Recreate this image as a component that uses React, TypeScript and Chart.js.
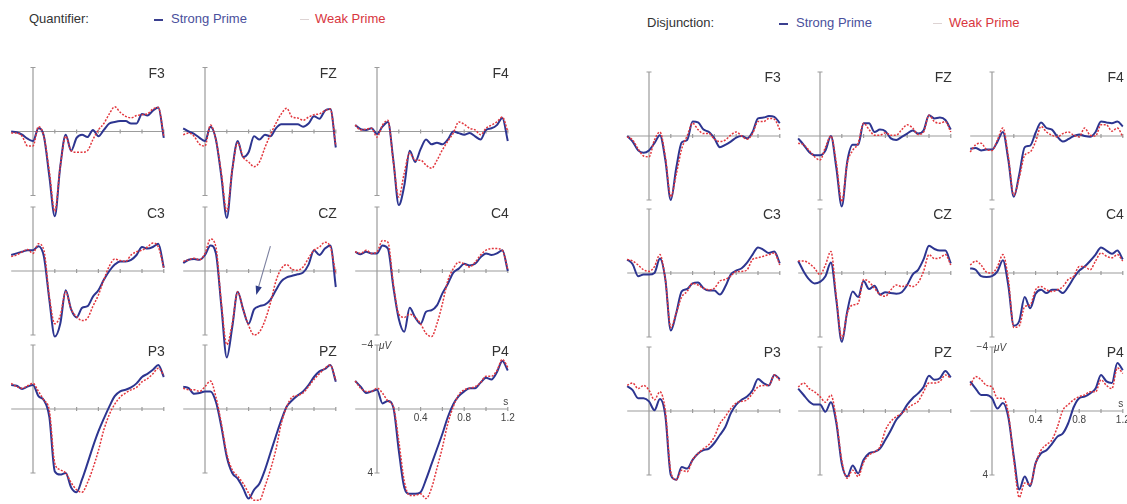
import React, { useEffect, useRef } from "react";
import { Chart, registerables } from "chart.js";

Chart.register(...registerables);

// ---- shared axes ----
const TIME = [-0.2, -0.15, -0.1, -0.05, 0, 0.05, 0.1, 0.15, 0.2, 0.25, 0.3, 0.35, 0.4, 0.45, 0.5, 0.55, 0.6, 0.65, 0.7, 0.75, 0.8, 0.85, 0.9, 0.95, 1.0, 1.05, 1.1, 1.15, 1.2];
const X_TICKS = [0.2, 0.4, 0.6, 0.8, 1.0, 1.2];
const X_TICK_LABELS = ["0.4", "0.8", "1.2"];
const X_TICK_LABEL_VALUES = [0.4, 0.8, 1.2];
const Y_TICKS = [-4, 4];
const Y_TICK_LABELS = ["\u22124", "4"];
const X_UNIT = "s";
const Y_UNIT = "\u03bcV";

// ---- Quantifier (left) ----
const Q_F3_S = [0, 0.05, 0.2, 0.45, 0.6, -0.2, 0.3, 2.8, 5.3, 2.2, 0.2, 1.2, 0.4, 0.2, 0.35, -0.1, 0.3, -0.1, -0.5, -0.6, -0.65, -0.65, -0.5, -0.5, -1.1, -1.0, -1.3, -1.5, 0.4];
const Q_F3_W = [0.1, 0.1, 0.3, 0.9, 0.9, -0.3, 0.3, 2.5, 5.0, 2.2, 0.3, 1.2, 1.3, 1.3, 1.2, 0.5, -0.1, -0.5, -1.1, -1.55, -1.2, -0.95, -0.85, -1.0, -1.05, -1.1, -1.4, -1.5, 0.3];
const Q_FZ_S = [-0.2, 0, 0.15, 0.4, 0.6, -0.3, 0.5, 2.8, 5.4, 2.4, 0.6, 1.6, 1.3, 0.3, 0.5, 0.2, 0.3, -0.2, -0.45, -0.45, -0.45, -0.45, -0.3, -0.5, -0.95, -0.8, -1.3, -1.4, 1.0];
const Q_FZ_W = [0.2, 0.1, 0.3, 0.8, 0.9, -0.4, 0.5, 2.6, 5.0, 2.4, 0.7, 1.6, 1.9, 2.2, 1.9, 1.0, 0.2, -0.5, -1.1, -1.45, -0.9, -0.85, -0.7, -0.9, -1.05, -1.1, -1.3, -1.4, 0.9];
const Q_F4_S = [-0.4, -0.15, -0.1, -0.2, 0.15, -0.3, -0.6, 1.8, 4.6, 3.4, 1.2, 1.9, 1.1, 0.5, 0.8, 0.7, 0.8, 0.5, 0, 0.1, 0.2, 0.1, 0.3, 0.5, -0.1, -0.2, -0.4, -0.85, 0.6];
const Q_F4_W = [-0.4, -0.1, -0.15, -0.2, 0.35, -0.4, -0.7, 1.9, 4.1, 2.6, 1.35, 1.8, 1.8, 2.1, 2.3, 1.8, 1.15, 0.6, 0.1, -0.6, -0.45, -0.2, -0.1, 0.2, -0.2, -0.4, -0.6, -0.9, 0];
const Q_C3_S = [-1.0, -1.1, -1.2, -1.3, -1.3, -1.55, -0.9, 1.8, 4.1, 3.3, 1.2, 2.4, 2.9, 2.3, 2.2, 1.6, 1.2, 0.55, 0, -0.4, -0.6, -0.6, -0.7, -1.0, -1.5, -1.4, -1.5, -1.7, -0.2];
const Q_C3_W = [-0.9, -1.0, -1.2, -1.35, -1.1, -1.7, -1.3, 1.6, 3.3, 2.8, 1.3, 2.4, 2.85, 3.1, 2.95, 2.2, 1.5, 0.55, -0.3, -0.75, -0.65, -0.6, -1.0, -1.2, -1.3, -1.5, -1.75, -1.5, -0.2];
const Q_CZ_S = [-0.5, -0.7, -0.75, -0.7, -1.0, -1.6, -1.1, 2.2, 5.4, 3.5, 1.3, 2.4, 3.3, 2.4, 2.2, 2.1, 1.8, 1.2, 0.65, 0.4, 0.3, 0.2, 0.1, -0.4, -1.3, -1.0, -1.4, -1.6, 1.0];
const Q_CZ_W = [-0.6, -0.7, -0.8, -0.7, -1.1, -2.0, -1.5, 2.0, 4.6, 3.3, 1.3, 2.4, 3.4, 4.0, 3.8, 3.1, 2.0, 0.65, -0.15, -0.4, -0.1, -0.05, -0.25, -0.8, -1.3, -1.5, -1.8, -1.5, 0.2];
const Q_C4_S = [-1.2, -1.05, -1.2, -1.1, -1.1, -1.6, -1.4, 1.0, 3.0, 3.8, 2.3, 2.9, 3.3, 2.55, 2.45, 2.15, 1.4, 0.8, 0.1, -0.15, -0.45, -0.35, -0.45, -0.85, -1.1, -1.0, -1.1, -1.3, 0];
const Q_C4_W = [-1.2, -1.1, -1.3, -1.1, -1.2, -1.9, -1.8, 0.8, 2.7, 2.9, 2.7, 2.9, 3.3, 3.9, 4.1, 3.3, 2.05, 0.6, -0.15, -0.55, -0.45, -0.25, -0.55, -1.0, -1.3, -1.4, -1.4, -1.3, -0.1];
const Q_P3_S = [-1.5, -1.45, -1.25, -1.4, -1.5, -0.8, -0.55, 0.5, 3.9, 4.1, 4.0, 4.9, 5.2, 4.4, 3.4, 2.35, 1.4, 0.6, -0.15, -0.8, -1.1, -1.2, -1.35, -1.6, -2.0, -2.2, -2.45, -2.75, -2.0];
const Q_P3_W = [-1.6, -1.4, -1.3, -1.45, -1.6, -1.1, -0.55, 0.1, 3.4, 3.8, 4.0, 4.6, 5.05, 5.2, 4.6, 3.7, 2.6, 1.3, 0.35, -0.3, -0.75, -1.0, -1.2, -1.35, -1.7, -1.9, -2.2, -2.55, -2.1];
const Q_PZ_S = [-1.4, -1.3, -0.95, -1.0, -1.1, -1.1, -0.45, 1.1, 3.0, 4.0, 4.35, 4.95, 5.6, 5.05, 4.65, 3.8, 2.75, 1.7, 0.7, -0.15, -0.55, -0.85, -1.1, -1.5, -2.0, -2.35, -2.5, -2.75, -1.7];
const Q_PZ_W = [-1.3, -1.2, -1.2, -1.1, -1.4, -1.75, -0.75, 0.9, 2.8, 3.8, 4.2, 4.65, 5.25, 5.7, 5.7, 4.85, 3.8, 2.55, 0.9, -0.15, -0.75, -0.85, -1.0, -1.4, -1.85, -2.2, -2.55, -2.75, -1.8];
const Q_P4_S = [-1.75, -1.4, -1.0, -1.1, -1.2, -0.35, -0.5, -0.1, 2.6, 4.9, 5.3, 5.3, 5.2, 4.4, 3.45, 2.5, 1.55, 0.5, -0.3, -0.8, -1.1, -1.3, -1.3, -1.65, -1.95, -1.85, -2.3, -3.0, -2.4];
const Q_P4_W = [-1.75, -1.3, -1.1, -1.1, -1.3, -1.0, -0.5, -0.15, 2.0, 4.5, 5.4, 5.4, 5.3, 5.6, 4.95, 3.7, 2.4, 0.9, -0.15, -0.9, -1.2, -1.3, -1.4, -1.65, -2.05, -2.05, -2.4, -3.1, -2.6];

// ---- Disjunction (right) ----
const D_F3_S = [0, 0.35, 0.9, 1.05, 0.9, 0.45, -0.05, 1.5, 4.0, 2.0, 0.4, 0.25, -0.9, -0.85, -0.4, -0.25, 0.15, 0.7, 0.55, 0.35, 0.1, 0, 0.15, -0.25, -1.1, -1.15, -1.25, -1.2, -0.8];
const D_F3_W = [0.05, 0.25, 0.8, 1.25, 1.3, 0.25, -0.25, 1.3, 3.8, 2.4, 0.8, 0, -0.8, -0.4, -0.15, -0.15, 0.2, 0.35, 0.25, -0.05, -0.25, 0, 0.2, -0.15, -0.9, -0.9, -1.1, -1.05, -0.4];
const D_FZ_S = [0.15, 0.55, 1.0, 1.2, 1.2, 0.9, 0, 2.0, 4.4, 1.6, 0.55, 0.55, -0.8, -0.8, -0.25, -0.4, -0.3, 0.15, 0.25, 0.05, -0.15, -0.35, -0.15, -0.35, -1.3, -1.1, -1.15, -1.0, -0.4];
const D_FZ_W = [0.45, 0.55, 0.9, 1.3, 1.5, 0.7, 0, 1.7, 4.1, 1.7, 0.9, 0.45, -0.8, -0.4, -0.05, -0.05, -0.2, -0.05, -0.05, -0.4, -0.7, -0.5, -0.1, -0.25, -1.3, -0.9, -0.8, -0.9, -0.25];
const D_F4_S = [0.8, 0.75, 0.9, 0.85, 0.85, 0.35, -0.25, 1.5, 3.8, 2.4, 0.7, 0.6, -0.2, -0.85, -0.5, -0.4, 0.05, 0.35, 0.2, 0, -0.1, 0, 0.05, -0.25, -0.9, -0.85, -0.8, -0.9, -0.6];
const D_F4_W = [1.0, 0.55, 0.45, 0.85, 0.9, 0.25, -0.5, 1.3, 3.7, 2.6, 1.2, 1.0, 0.35, -0.6, -0.25, -0.05, 0.05, -0.15, -0.25, -0.05, 0.05, -0.5, -0.05, 0, -0.7, -0.7, -0.3, -0.5, 0.05];
const D_C3_S = [-0.85, -0.55, 0.2, 0.1, 0.1, 0, -0.9, 0.4, 3.6, 2.5, 1.15, 1.0, 0.65, 0.6, 0.95, 1.1, 1.1, 1.35, 0.85, 0.1, -0.15, -0.3, -0.65, -1.15, -1.6, -1.45, -1.25, -1.35, -0.6];
const D_C3_W = [-0.85, -0.75, -0.5, -0.2, -0.1, -0.4, -1.15, 0.4, 3.4, 2.5, 1.5, 1.15, 0.65, 0.75, 0.95, 1.05, 0.95, 0.5, 0.4, 0.2, -0.1, -0.1, -0.2, -0.85, -0.95, -1.05, -1.15, -1.25, -0.5];
const D_CZ_S = [-0.75, -0.1, 0.4, 0.65, 0.55, 0.2, -0.65, 1.7, 4.3, 2.4, 1.15, 1.5, 0.5, 1.0, 0.8, 1.35, 1.2, 1.25, 1.3, 1.2, 0.75, 0.1, -0.2, -0.85, -1.7, -1.5, -1.4, -1.4, -0.6];
const D_CZ_W = [-0.75, -0.75, -0.6, -0.3, 0.1, -0.5, -1.35, 1.5, 4.1, 2.5, 2.0, 1.9, 0.4, 0.55, 0.95, 1.35, 1.45, 1.05, 0.75, 0.85, 0.75, 0.85, 0.6, -0.1, -1.15, -0.9, -0.95, -1.15, -0.5];
const D_C4_S = [-0.3, -0.2, 0.2, 0.25, 0.2, -0.1, -0.8, 0.8, 3.3, 3.0, 1.5, 2.2, 1.3, 1.05, 1.25, 1.05, 1.05, 1.25, 0.85, 0.3, -0.15, -0.4, -0.75, -1.15, -1.6, -1.4, -1.2, -1.4, -0.85];
const D_C4_W = [-0.5, -0.75, -0.5, -0.05, 0, -0.4, -1.15, 0.4, 3.4, 3.3, 2.1, 2.0, 1.05, 0.85, 1.05, 1.15, 1.05, 0.85, 0.4, 0.2, -0.4, -0.4, -0.2, -0.75, -1.25, -1.05, -0.95, -1.15, -0.75];
const D_P3_S = [-1.55, -1.3, -0.8, -0.8, -0.6, -0.05, -0.75, 0.3, 4.0, 4.3, 3.5, 3.6, 3.05, 2.65, 2.45, 2.35, 2.0, 1.5, 1.0, 0.15, -0.4, -0.7, -0.9, -1.3, -2.0, -1.75, -1.6, -2.25, -2.0];
const D_P3_W = [-1.6, -1.75, -1.4, -1.6, -1.3, -0.7, -1.2, 0, 3.8, 4.3, 3.7, 3.8, 3.05, 2.65, 2.35, 2.1, 1.6, 0.8, 0.35, -0.15, -0.5, -0.6, -0.7, -1.1, -1.5, -1.6, -1.6, -2.25, -1.9];
const D_PZ_S = [-1.4, -1.0, -0.6, -0.4, -0.4, 0.05, -0.55, 0.75, 3.3, 4.1, 3.4, 3.9, 3.05, 2.65, 2.55, 2.35, 1.8, 1.2, 0.55, 0.15, -0.4, -0.8, -1.1, -1.5, -2.2, -1.95, -2.05, -2.5, -2.1];
const D_PZ_W = [-1.5, -1.75, -1.4, -1.2, -0.9, -0.55, -1.0, 0.55, 3.1, 4.2, 3.7, 4.1, 3.2, 2.75, 2.55, 2.25, 1.2, 0.65, 0.35, 0.15, -0.15, -0.4, -0.6, -1.2, -1.75, -1.75, -1.85, -2.25, -2.05];
const D_P4_S = [-1.85, -1.4, -1.0, -1.0, -0.8, -0.15, -0.5, 0.4, 2.85, 4.9, 4.1, 4.7, 3.25, 2.65, 2.45, 2.05, 1.6, 1.4, 0.75, -0.25, -0.8, -0.9, -1.1, -1.4, -2.25, -1.85, -1.75, -3.0, -2.55];
const D_P4_W = [-1.6, -2.15, -1.95, -1.6, -1.5, -0.8, -0.8, 0.15, 3.05, 5.4, 4.5, 4.6, 3.3, 2.45, 2.1, 1.8, 1.0, -0.05, -0.4, -0.7, -0.9, -1.0, -1.2, -1.2, -1.95, -1.6, -1.4, -2.7, -2.35];

// annotation arrow in Quantifier CZ, in data units [s, µV]
const ARROW_FROM = [0.6, -1.55];
const ARROW_TO = [0.47, 1.5];

const ELECTRODES = ["F3", "FZ", "F4", "C3", "CZ", "C4", "P3", "PZ", "P4"];
const Q_STRONG = [Q_F3_S, Q_FZ_S, Q_F4_S, Q_C3_S, Q_CZ_S, Q_C4_S, Q_P3_S, Q_PZ_S, Q_P4_S];
const Q_WEAK = [Q_F3_W, Q_FZ_W, Q_F4_W, Q_C3_W, Q_CZ_W, Q_C4_W, Q_P3_W, Q_PZ_W, Q_P4_W];
const D_STRONG = [D_F3_S, D_FZ_S, D_F4_S, D_C3_S, D_CZ_S, D_C4_S, D_P3_S, D_PZ_S, D_P4_S];
const D_WEAK = [D_F3_W, D_FZ_W, D_F4_W, D_C3_W, D_CZ_W, D_C4_W, D_P3_W, D_PZ_W, D_P4_W];

// ---- layout (page pixels) ----
const LEFT_COL_X = [33, 205, 377];
const LEFT_ROW_Y = [131.5, 271, 409];
const RIGHT_COL_X = [649, 820, 992];
const RIGHT_ROW_Y = [136, 273, 411];
const PX_PER_S = 109;
const PX_PER_UV = 16;
const PAD_L = 30, PAD_R = 16, PAD_T = 82, PAD_B = 100;

const BLUE = "#2d3590";
const RED = "#e2363d";
const AXIS = "#9c9c9c";
const FONT = '"Liberation Sans", Arial, Helvetica, sans-serif';

type PanelProps = {
  name: string;
  ox: number;
  oy: number;
  strong: number[];
  weak: number[];
  showUnits: boolean;
  arrow: boolean;
  labelDy: number;
};

function Panel({ name, ox, oy, strong, weak, showUnits, arrow, labelDy }: PanelProps) {
  const ref = useRef<HTMLCanvasElement>(null);
  const left = Math.round(ox - 0.2 * PX_PER_S - PAD_L);
  const width = Math.round(1.4 * PX_PER_S + PAD_L + PAD_R);
  const top = Math.round(oy - PAD_T);
  const height = PAD_T + PAD_B;

  useEffect(() => {
    if (!ref.current) return;
    const xmin = (left - ox) / PX_PER_S;
    const xmax = (left + width - ox) / PX_PER_S;
    const ymin = (top - oy) / PX_PER_UV;
    const ymax = (top + height - oy) / PX_PER_UV;

    const axesPlugin = {
      id: "erpAxes",
      beforeDatasetsDraw(chart: any) {
        const { ctx } = chart;
        const x = chart.scales.x;
        const y = chart.scales.y;
        const x0 = x.getPixelForValue(0);
        const y0 = y.getPixelForValue(0);
        ctx.save();
        ctx.strokeStyle = AXIS;
        ctx.lineWidth = 1.2;
        ctx.beginPath();
        ctx.moveTo(x.getPixelForValue(-0.2), y0);
        ctx.lineTo(x.getPixelForValue(1.2), y0);
        for (const t of X_TICKS) {
          const px = x.getPixelForValue(t);
          ctx.moveTo(px, y0 - 2);
          ctx.lineTo(px, y0 + 2);
        }
        ctx.moveTo(x0, y.getPixelForValue(-4));
        ctx.lineTo(x0, y.getPixelForValue(4));
        for (const v of Y_TICKS) {
          const py = y.getPixelForValue(v);
          ctx.moveTo(x0 - 2.5, py);
          ctx.lineTo(x0 + 2.5, py);
        }
        ctx.stroke();

        ctx.fillStyle = "#333";
        ctx.font = `14px ${FONT}`;
        ctx.textAlign = "right";
        ctx.textBaseline = "middle";
        ctx.fillText(name, x.getPixelForValue(1.2) + 1, y0 + labelDy);

        if (showUnits) {
          ctx.fillStyle = "#444";
          ctx.font = `10px ${FONT}`;
          ctx.textAlign = "right";
          Y_TICKS.forEach((v, i) => {
            ctx.fillText(Y_TICK_LABELS[i], x0 - 4, y.getPixelForValue(v));
          });
          ctx.textAlign = "left";
          ctx.font = `italic 10px ${FONT}`;
          ctx.fillText(Y_UNIT, x0 + 2, y.getPixelForValue(-4) + 1);
          ctx.font = `10px ${FONT}`;
          ctx.textAlign = "center";
          ctx.fillText(X_UNIT, x.getPixelForValue(1.2) - 2, y0 - 7);
          X_TICK_LABEL_VALUES.forEach((t, i) => {
            ctx.fillText(X_TICK_LABELS[i], x.getPixelForValue(t), y0 + 9);
          });
        }
        ctx.restore();
      },
      afterDatasetsDraw(chart: any) {
        if (!arrow) return;
        const { ctx } = chart;
        const x = chart.scales.x;
        const y = chart.scales.y;
        const x1 = x.getPixelForValue(ARROW_FROM[0]);
        const y1 = y.getPixelForValue(ARROW_FROM[1]);
        const x2 = x.getPixelForValue(ARROW_TO[0]);
        const y2 = y.getPixelForValue(ARROW_TO[1]);
        const ang = Math.atan2(y2 - y1, x2 - x1);
        const hl = 9, hw = 3.2;
        const bx = x2 - hl * Math.cos(ang);
        const by = y2 - hl * Math.sin(ang);
        ctx.save();
        ctx.strokeStyle = "#7a7f9e";
        ctx.lineWidth = 1.1;
        ctx.beginPath();
        ctx.moveTo(x1, y1);
        ctx.lineTo(bx, by);
        ctx.stroke();
        ctx.fillStyle = "#2d3a86";
        ctx.beginPath();
        ctx.moveTo(x2, y2);
        ctx.lineTo(bx + hw * Math.sin(ang), by - hw * Math.cos(ang));
        ctx.lineTo(bx - hw * Math.sin(ang), by + hw * Math.cos(ang));
        ctx.closePath();
        ctx.fill();
        ctx.restore();
      },
    };

    const chart = new Chart(ref.current, {
      type: "line",
      data: {
        datasets: [
          {
            label: "Weak Prime",
            data: TIME.map((t, i) => ({ x: t, y: weak[i] })),
            borderColor: RED,
            borderWidth: 1.5,
            borderDash: [2, 1.5],
            pointRadius: 0,
            cubicInterpolationMode: "monotone",
            fill: false,
          },
          {
            label: "Strong Prime",
            data: TIME.map((t, i) => ({ x: t, y: strong[i] })),
            borderColor: BLUE,
            borderWidth: 2,
            pointRadius: 0,
            cubicInterpolationMode: "monotone",
            fill: false,
          },
        ],
      },
      options: {
        animation: false,
        responsive: false,
        events: [],
        layout: { padding: 0, autoPadding: false },
        plugins: { legend: { display: false }, tooltip: { enabled: false }, title: { display: false } },
        scales: {
          x: { type: "linear", display: false, min: xmin, max: xmax },
          y: { type: "linear", display: false, reverse: true, min: ymin, max: ymax },
        },
      } as any,
      plugins: [axesPlugin],
    });
    return () => chart.destroy();
  }, []);

  return (
    <canvas
      ref={ref}
      width={width}
      height={height}
      style={{ position: "absolute", left, top, width, height }}
    />
  );
}

function Header({ x, y, title, dash1, text1, dash2, text2 }: { x: number; y: number; title: string; dash1: number; text1: number; dash2: number; text2: number }) {
  const base: React.CSSProperties = { position: "absolute", top: y - 8, fontFamily: FONT, fontSize: 13, lineHeight: "16px", whiteSpace: "nowrap" };
  return (
    <>
      <div style={{ ...base, left: x, color: "#333" }}>{title}</div>
      <div style={{ position: "absolute", left: dash1, top: y, width: 9, height: 2, background: "#3a3f8f" }} />
      <div style={{ ...base, left: text1, color: "#4a4f9c" }}>Strong Prime</div>
      <div style={{ position: "absolute", left: dash2, top: y, width: 9, height: 1, background: "#ddd3d3" }} />
      <div style={{ ...base, left: text2, color: "#d8363e" }}>Weak Prime</div>
    </>
  );
}

export default function App() {
  const panels: React.ReactNode[] = [];
  ELECTRODES.forEach((name, i) => {
    const r = Math.floor(i / 3);
    const c = i % 3;
    panels.push(
      <Panel key={"q" + name} name={name} ox={LEFT_COL_X[c]} oy={LEFT_ROW_Y[r]} strong={Q_STRONG[i]} weak={Q_WEAK[i]}
        showUnits={name === "P4"} arrow={name === "CZ"} labelDy={-57} />
    );
    panels.push(
      <Panel key={"d" + name} name={name} ox={RIGHT_COL_X[c]} oy={RIGHT_ROW_Y[r]} strong={D_STRONG[i]} weak={D_WEAK[i]}
        showUnits={name === "P4"} arrow={false} labelDy={-58} />
    );
  });
  return (
    <div style={{ position: "fixed", left: 0, top: 0, width: 1127, height: 504, background: "#fff", overflow: "hidden" }}>
      <Header x={29} y={19} title="Quantifier:" dash1={154} text1={171} dash2={300} text2={315} />
      <Header x={647} y={23} title="Disjunction:" dash1={779} text1={796} dash2={933} text2={949} />
      {panels}
    </div>
  );
}
